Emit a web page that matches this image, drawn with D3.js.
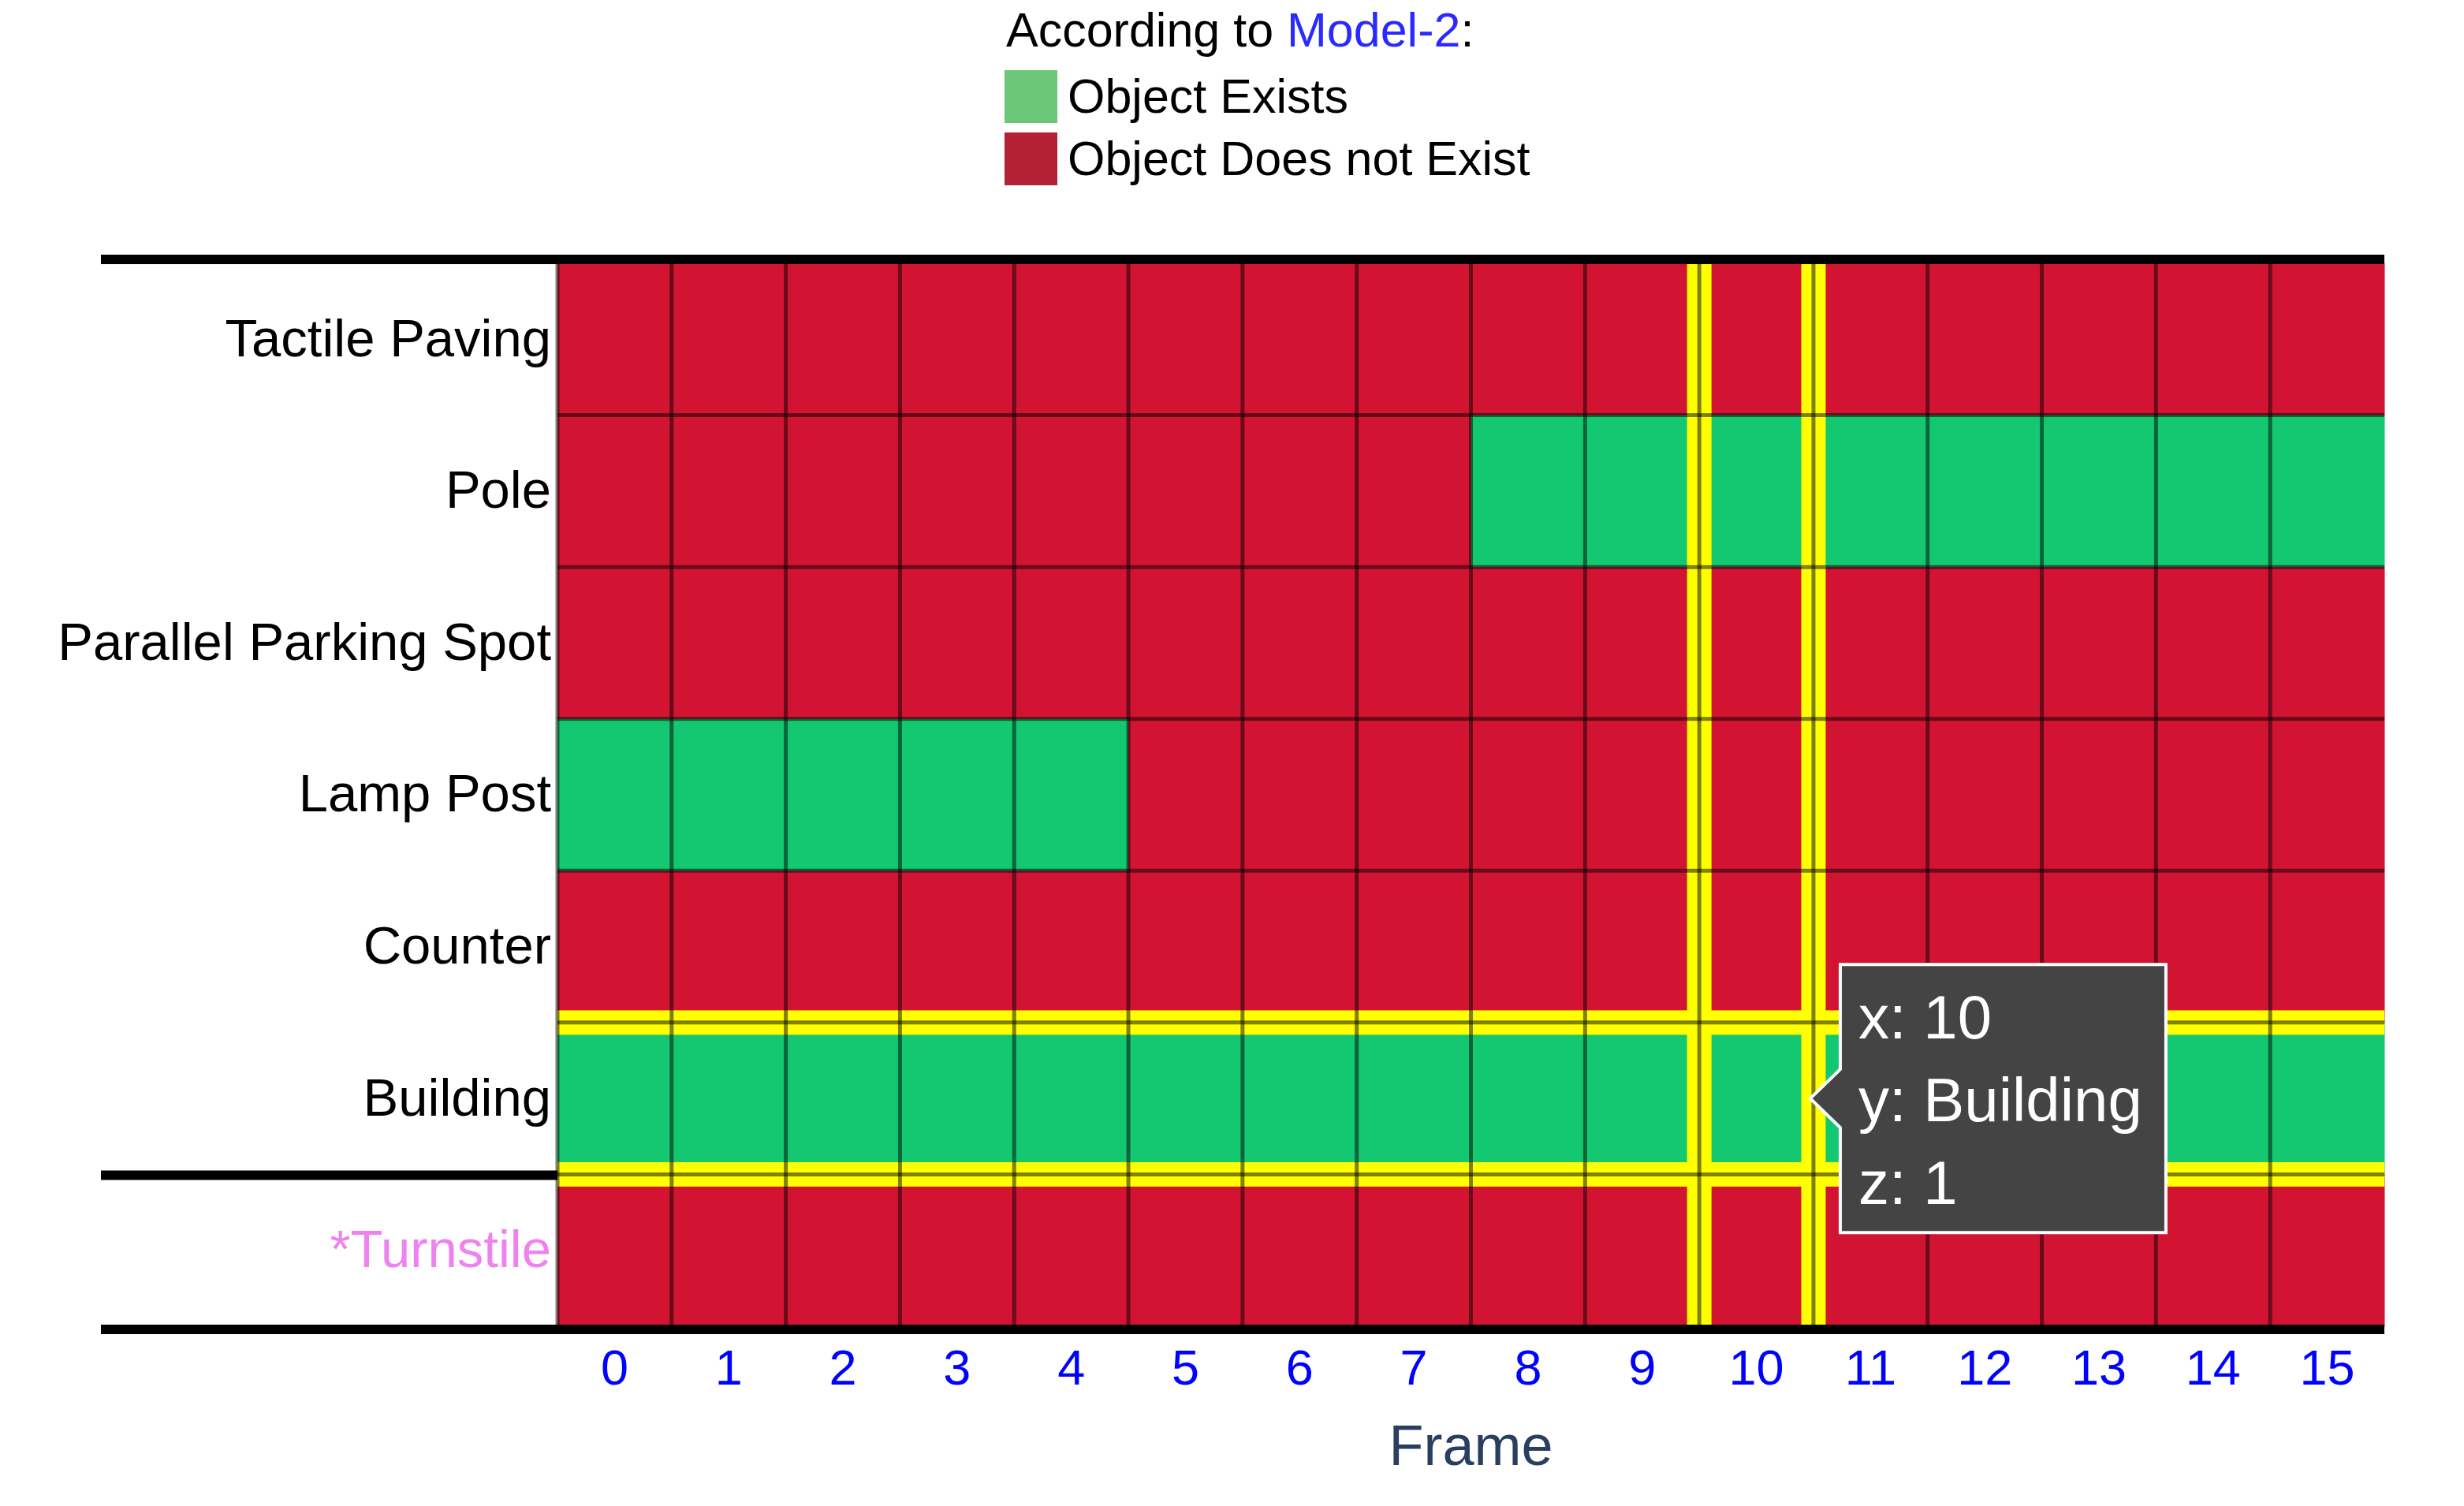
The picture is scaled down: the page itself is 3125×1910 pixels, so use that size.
<!DOCTYPE html>
<html>
<head>
<meta charset="utf-8">
<script src="https://cdn.jsdelivr.net/npm/d3@7"></script>
<style>
body{margin:0;background:#fff;}
text{font-family:"Liberation Sans",Arial,Helvetica,sans-serif;}
</style>
</head>
<body>
<svg id="chart"></svg>
<script>
// frames on x, objects on y (top to bottom)
var frames = [0,1,2,3,4,5,6,7,8,9,10,11,12,13,14,15];
var objects = ["Tactile Paving","Pole","Parallel Parking Spot","Lamp Post","Counter","Building","*Turnstile"];

// 1 = object exists, 0 = does not exist
var tactilePaving       = [0,0,0,0,0,0,0,0,0,0,0,0,0,0,0,0];
var pole                = [0,0,0,0,0,0,0,0,1,1,1,1,1,1,1,1];
var parallelParkingSpot = [0,0,0,0,0,0,0,0,0,0,0,0,0,0,0,0];
var lampPost            = [1,1,1,1,1,0,0,0,0,0,0,0,0,0,0,0];
var counter             = [0,0,0,0,0,0,0,0,0,0,0,0,0,0,0,0];
var building            = [1,1,1,1,1,1,1,1,1,1,1,1,1,1,1,1];
var turnstile           = [0,0,0,0,0,0,0,0,0,0,0,0,0,0,0,0];

var legendLabels = ["Object Exists","Object Does not Exist"];
var modelName = "Model-2";
var hoverFrame = 10;
var hoverObject = "Building";

var size = {width:3125, height:1910};
var plot = {left:707, right:3024, top:334, bottom:1682};
var colors = {exists:"#13c870", notExists:"#d21432", legendExists:"#6cc677", legendNot:"#b22234"};

var svg = d3.select("#chart")
    .attr("width",size.width)
    .attr("height",size.height);

var rows = [tactilePaving,pole,parallelParkingSpot,lampPost,counter,building,turnstile];
var cells = [];
rows.forEach(function(r,i){
    r.forEach(function(v,j){
        cells.push({x:frames[j], y:objects[i], z:v});
    });
});

var xScale = d3.scaleBand().domain(frames).range([plot.left,plot.right]);
var yScale = d3.scaleBand().domain(objects).range([plot.top,plot.bottom]);
var bw = xScale.bandwidth(), bh = yScale.bandwidth();

// cells
svg.append("g").selectAll("rect")
    .data(cells)
    .enter()
    .append("rect")
    .attr("x",function(d){return xScale(d.x);})
    .attr("y",function(d){return yScale(d.y);})
    .attr("width",bw+0.5)
    .attr("height",bh+0.5)
    .attr("fill",function(d){return d.z==1 ? colors.exists : colors.notExists;});

// yellow highlight around the hovered cell
var hx = [xScale(hoverFrame), xScale(hoverFrame)+bw];
var hy = [yScale(hoverObject), yScale(hoverObject)+bh];
var hl = svg.append("g");
hl.selectAll("rect.v").data(hx).enter().append("rect")
    .attr("x",function(d){return d-15.5;})
    .attr("y",plot.top-4)
    .attr("width",31)
    .attr("height",plot.bottom-plot.top+4)
    .attr("fill","#ffff00");
hl.selectAll("rect.h").data(hy).enter().append("rect")
    .attr("x",plot.left)
    .attr("y",function(d){return d-15.5;})
    .attr("width",plot.right-plot.left)
    .attr("height",31)
    .attr("fill","#ffff00");

// cell grid
var grid = svg.append("g")
    .attr("stroke","#000")
    .attr("stroke-opacity",0.5)
    .attr("stroke-width",5);
grid.selectAll("line.v")
    .data(frames)
    .enter()
    .append("line")
    .attr("x1",function(d){return xScale(d);})
    .attr("x2",function(d){return xScale(d);})
    .attr("y1",plot.top)
    .attr("y2",plot.bottom);
grid.selectAll("line.h")
    .data(objects.slice(1))
    .enter()
    .append("line")
    .attr("x1",plot.left)
    .attr("x2",plot.right)
    .attr("y1",function(d){return yScale(d);})
    .attr("y2",function(d){return yScale(d);});

// thick separators
var sep = svg.append("g").attr("stroke","#000").attr("stroke-width",12);
sep.append("line").attr("x1",128).attr("x2",plot.right).attr("y1",329).attr("y2",329);
sep.append("line").attr("x1",128).attr("x2",plot.left).attr("y1",yScale("*Turnstile")+1).attr("y2",yScale("*Turnstile")+1);
sep.append("line").attr("x1",128).attr("x2",plot.right).attr("y1",plot.bottom+4).attr("y2",plot.bottom+4);

// axes
var xAxis = d3.axisBottom(xScale).tickSize(0).tickPadding(29);
var gx = svg.append("g")
    .attr("transform","translate(0,"+plot.bottom+")")
    .call(xAxis);
gx.select(".domain").remove();
gx.selectAll("text")
    .attr("font-size",63)
    .attr("font-family","'Liberation Sans',Arial,sans-serif")
    .attr("fill","#0000ff");

var yAxis = d3.axisLeft(yScale).tickSize(0).tickPadding(8);
var gy = svg.append("g")
    .attr("transform","translate("+plot.left+",0)")
    .call(yAxis);
gy.select(".domain").remove();
gy.selectAll("text")
    .attr("font-size",67)
    .attr("font-family","'Liberation Sans',Arial,sans-serif")
    .attr("fill",function(d){return d=="*Turnstile" ? "violet" : "#000";});

svg.append("text")
    .attr("x",(plot.left+plot.right)/2)
    .attr("y",1858)
    .attr("text-anchor","middle")
    .attr("font-size",72)
    .attr("fill","#2a3f5f")
    .text("Frame");

// legend
var legend = svg.append("g").attr("transform","translate(1274,0)");
var title = legend.append("text")
    .attr("x",2)
    .attr("y",59)
    .attr("font-size",61)
    .attr("fill","#000");
title.append("tspan").text("According to ");
title.append("tspan").attr("fill","#2a2aff").text(modelName);
title.append("tspan").text(":");

var entries = legend.selectAll("g.entry")
    .data(legendLabels)
    .enter()
    .append("g")
    .attr("transform",function(d,i){return "translate(0,"+(89+i*79)+")";});
entries.append("rect")
    .attr("width",67)
    .attr("height",67)
    .attr("fill",function(d,i){return i==0 ? colors.legendExists : colors.legendNot;});
entries.append("text")
    .attr("x",80)
    .attr("y",54)
    .attr("font-size",61)
    .attr("fill","#000")
    .text(function(d){return d;});

// hover label
var tipX = xScale(hoverFrame)+bw-4;
var tipY = yScale(hoverObject)+bh/2;
var boxL = tipX+38, boxR = boxL+413, boxT = tipY-170, boxB = tipY+170;
var tip = svg.append("g");
tip.append("path")
    .attr("d","M"+tipX+","+tipY+"L"+boxL+","+(tipY-37)+"L"+boxL+","+boxT+"L"+boxR+","+boxT+
              "L"+boxR+","+boxB+"L"+boxL+","+boxB+"L"+boxL+","+(tipY+37)+"Z")
    .attr("fill","#444")
    .attr("stroke","#fff")
    .attr("stroke-width",4);
tip.selectAll("text")
    .data(["x: "+hoverFrame,"y: "+hoverObject,"z: "+building[frames.indexOf(hoverFrame)]])
    .enter()
    .append("text")
    .attr("x",boxL+23)
    .attr("y",function(d,i){return tipY-76+i*105;})
    .attr("font-size",78)
    .attr("fill","#fff")
    .text(function(d){return d;});
</script>
</body>
</html>
